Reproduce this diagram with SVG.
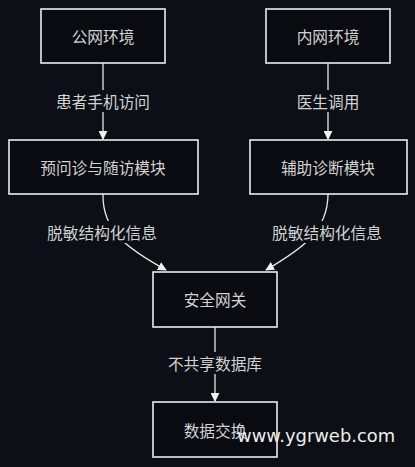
<svg xmlns="http://www.w3.org/2000/svg" width="415" height="467" viewBox="0 0 415 467">
<defs>
<style>
.node rect{fill:#090b10;stroke:#ececec;stroke-width:1.6}
.node text,.lbl text{font-family:"Noto Sans CJK SC","Liberation Sans",sans-serif;font-size:15.7px;fill:#d2d2d2;text-anchor:middle;dominant-baseline:central}
.edge{fill:none;stroke:#e8e8e8;stroke-width:1.3}
.lbl rect{fill:#0c0f16}
</style>
<marker id="ah" viewBox="0 0 10 10" refX="9" refY="5" markerWidth="9" markerHeight="9" markerUnits="userSpaceOnUse" orient="auto">
<path d="M0,0 L10,5 L0,10 Z" fill="#f0f0f0"/>
</marker>
</defs>
<rect width="415" height="467" fill="#0c0f16"/>
<g id="connectors">
<path class="edge" d="M103,63 L103,139" marker-end="url(#ah)"/>
<path class="edge" d="M328,63 L328,139" marker-end="url(#ah)"/>
<path class="edge" d="M103,194 C102,232 130,250 166,270" marker-end="url(#ah)"/>
<path class="edge" d="M328,194 C328,232 300,250 266,270" marker-end="url(#ah)"/>
<path class="edge" d="M215,327 L215,401" marker-end="url(#ah)"/>
<g class="lbl"><rect x="54" y="90" width="98" height="22"/><text x="103" y="101">患者手机访问</text></g>
<g class="lbl"><rect x="296" y="90" width="64" height="22"/><text x="328" y="101">医生调用</text></g>
<g class="lbl"><rect x="47" y="221" width="111" height="22"/><text x="102" y="232">脱敏结构化信息</text></g>
<g class="lbl"><rect x="272" y="221" width="111" height="22"/><text x="327" y="232">脱敏结构化信息</text></g>
<g class="lbl"><rect x="167" y="352" width="96" height="22"/><text x="215" y="363">不共享数据库</text></g>
</g>
<g id="n1" class="node"><rect x="41" y="9" width="124" height="54"/><text x="103" y="36">公网环境</text></g>
<g id="n2" class="node"><rect x="266" y="9" width="124" height="54"/><text x="328" y="36">内网环境</text></g>
<g id="n3" class="node"><rect x="9" y="140" width="189" height="54"/><text x="103" y="167">预问诊与随访模块</text></g>
<g id="n4" class="node"><rect x="250" y="140" width="157" height="54"/><text x="328" y="167">辅助诊断模块</text></g>
<g id="n5" class="node"><rect x="153" y="272" width="124" height="55"/><text x="215" y="299">安全网关</text></g>
<g id="n6" class="node"><rect x="153" y="402" width="124" height="55"/><text x="215" y="430">数据交换</text></g>
<text x="237" y="442" font-family="DejaVu Sans,sans-serif" font-size="17.9" fill="#eeeeee">www.ygrweb.com</text>
</svg>
